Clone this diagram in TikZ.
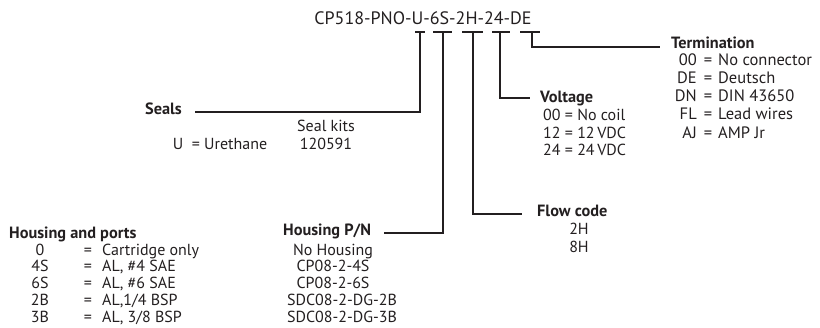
\documentclass[tikz,border=0pt]{standalone}
\usepackage{fontspec}
\setmainfont{PT Sans}
\definecolor{ink}{HTML}{231F20}
\begin{document}
\begin{tikzpicture}[x=1pt,y=-1pt,
  every node/.style={inner sep=0pt, text=ink},
  txt/.style={font=\fontsize{16}{18}\selectfont},
  item/.style={txt, anchor=mid west},
  citem/.style={txt, anchor=mid},
  ritem/.style={txt, anchor=mid east},
  head/.style={font=\bfseries\fontsize{16.3}{18}\selectfont, anchor=mid west},
  lead/.style={draw=ink, line width=1.2pt}]
\useasboundingbox (0,0) rectangle (820,328);

\node[font=\fontsize{18}{22}\selectfont, anchor=base] (title) at (423,25) {CP518-PNO-U-6S-2H-24-DE};

% stems
\coordinate (u) at (420,32);
\coordinate (s6) at (443,32);
\coordinate (h2) at (473,32);
\coordinate (v24) at (500,32);
\coordinate (de) at (532,32);
\draw[lead] ([xshift=-5]u) -- ([xshift=5]u);
\draw[lead] ([xshift=-10]s6) -- ([xshift=9]s6);
\draw[lead] ([xshift=-11]h2) -- ([xshift=10]h2);
\draw[lead] ([xshift=-8]v24) -- ([xshift=10]v24);
\draw[lead] ([xshift=-12]de) -- ([xshift=8]de);

% Seals
\node[head] (seals) at (145,112) {Seals};
\coordinate (sealsend) at (195,112);
\draw[lead] (u) |- (sealsend);
\node[citem] (sk) at (326,129) {Seal kits};
\node[citem] (sk1) at (326,147) {120591};
\node[citem] (su) at (178,147) {U};
\node[citem] (sue) at (196,147) {=};
\node[item] (sur) at (204,147) {Urethane};

% Termination
\node[head] (term) at (671,46) {Termination};
\coordinate (termend) at (660,47);
\draw[lead] (de) |- (termend);
\foreach \c/\v/\y [count=\i] in {00/No connector/63, DE/Deutsch/81, DN/DIN 43650/99, FL/Lead wires/117, AJ/AMP Jr/136}{
  \node[ritem, font=\fontsize{16.5}{18}\selectfont] (tc\i) at (697,\y) {\c};
  \node[citem, font=\fontsize{16.5}{18}\selectfont] (te\i) at (708,\y) {=};
  \node[item, font=\fontsize{16.5}{18}\selectfont] (tv\i) at (718,\y) {\v};
}

% Voltage
\node[head] (volt) at (540,100) {Voltage};
\coordinate (voltend) at (530,98);
\draw[lead] (v24) |- (voltend);
\node[item] (v1) at (543,118) {00 = No coil};
\node[item] (v2) at (543,136) {12 = 12\,VDC};
\node[item] (v3) at (543,153) {24 = 24\,VDC};

% Flow code
\node[head] (flow) at (537,214) {Flow code};
\coordinate (flowend) at (522,214);
\draw[lead] (h2) |- (flowend);
\node[citem] (f1) at (579,232) {2H};
\node[citem] (f2) at (579,250) {8H};

% Housing P/N
\node[head] (hpn) at (283,233) {Housing P/N};
\coordinate (hpnend) at (384,233);
\draw[lead] (s6) |- (hpnend);
\node[citem] (p1) at (333,253) {No Housing};
\node[citem] (p2) at (333,269) {CP08-2-4S};
\node[citem] (p3) at (333,286) {CP08-2-6S};
\node[citem] (p4) at (342,303) {SDC08-2-DG-2B};
\node[citem] (p5) at (342,320) {SDC08-2-DG-3B};

% Housing and ports
\node[head] (hap) at (9,236) {Housing and ports};
\foreach \c/\v/\y [count=\i] in {0/Cartridge only/253, 4S/{AL, \#4 SAE}/269, 6S/{AL, \#6 SAE}/286, 2B/{AL,1/4 BSP}/303, 3B/{AL, 3/8 BSP}/320}{
  \node[citem] (hc\i) at (40,\y) {\c};
  \node[citem] (he\i) at (88,\y) {=};
  \node[item] (hv\i) at (102,\y) {\v};
}
\end{tikzpicture}
\end{document}
